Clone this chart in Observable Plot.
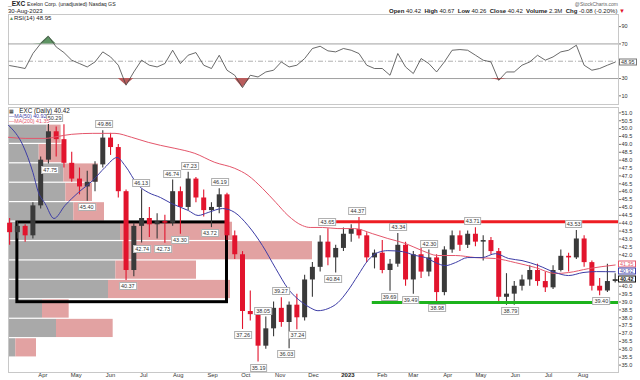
<!DOCTYPE html>
<html><head><meta charset="utf-8">
<script src="https://cdn.jsdelivr.net/npm/d3@7"></script>
<script src="https://cdn.jsdelivr.net/npm/@observablehq/plot@0.6"></script>
<style>
body{margin:0;background:#fff;}
#chart{position:relative;width:640px;height:380px;overflow:hidden;font-family:"Liberation Sans",Arial,sans-serif;color:#222;background:#fff;font-size:6px;}
#chart svg{position:absolute;left:0;top:0;}
.t{position:absolute;white-space:nowrap;line-height:1;font-size:6px;}
.lbl{position:absolute;font-size:5.5px;line-height:6px;padding:0 1px;background:#fff;border:0.6px solid #b0b0b0;transform:translate(-50%,-50%);color:#333;white-space:nowrap;}
.vb{position:absolute;font-size:5.4px;line-height:5px;padding:0 1px;background:#fff;transform:translateY(-50%);white-space:nowrap;}
</style></head><body><div id="chart"></div>
<script>
// ---------- DATA ----------
const candleDates = ["2022-03-02","2022-03-09","2022-03-16","2022-03-23","2022-03-30","2022-04-06","2022-04-13","2022-04-20","2022-04-27","2022-05-04","2022-05-11","2022-05-18","2022-05-25","2022-06-01","2022-06-08","2022-06-15","2022-06-22","2022-06-29","2022-07-06","2022-07-13","2022-07-20","2022-07-27","2022-08-03","2022-08-10","2022-08-17","2022-08-24","2022-08-31","2022-09-07","2022-09-14","2022-09-21","2022-09-28","2022-10-05","2022-10-12","2022-10-19","2022-10-26","2022-11-02","2022-11-09","2022-11-16","2022-11-23","2022-11-30","2022-12-07","2022-12-14","2022-12-21","2022-12-28","2023-01-04","2023-01-11","2023-01-18","2023-01-25","2023-02-01","2023-02-08","2023-02-15","2023-02-22","2023-03-01","2023-03-08","2023-03-15","2023-03-22","2023-03-29","2023-04-05","2023-04-12","2023-04-19","2023-04-26","2023-05-03","2023-05-10","2023-05-17","2023-05-24","2023-05-31","2023-06-07","2023-06-14","2023-06-21","2023-06-28","2023-07-05","2023-07-12","2023-07-19","2023-07-26","2023-08-02","2023-08-09","2023-08-16","2023-08-23","2023-08-30"];
const opens = [44.0,43.4,43.8,43.2,45.1,48.0,49.8,49.3,47.8,46.8, 46.3,46.6,47.7,49.4,48.8,46.0,41.0,43.8,44.3,43.9, 44.1,44.0,46.0,45.0,46.8,45.6,44.8,45.0,45.8,43.2, 42.0,38.4,38.2,36.2,37.3,38.6,37.7,38.8,38.0,40.4, 41.2,42.8,41.8,42.4,43.3,43.6,43.2,41.8,42.1,41.0, 41.4,42.6,40.4,42.0,40.9,41.8,39.6,42.3,43.2,42.6, 43.3,42.8,42.9,42.2,39.3,39.5,40.0,40.4,41.0,40.3, 39.9,41.0,41.9,41.8,43.0,41.5,40.0,39.7,40.3];
const highs = [44.3,44.1,43.9,45.3,48.2,50.29,50.1,50.25,48.5,47.5, 47.3,47.9,49.86,49.7,49.0,46.1,44.0,46.13,45.0,44.6, 44.5,46.74,46.3,47.23,46.9,46.1,45.3,46.19,45.9,43.5, 42.2,39.7,38.4,38.05,39.0,39.27,39.0,39.5,40.7,41.5, 43.2,43.65,42.6,43.7,43.9,44.37,43.4,42.3,42.9,41.7, 43.34,42.8,42.2,42.4,42.30,42.0,42.5,43.5,43.5,43.5, 43.71,43.2,43.1,42.4,40.8,40.3,40.7,41.3,41.4,40.9, 41.3,42.3,42.1,43.53,43.2,41.6,40.5,41.4,40.8];
const lows = [42.6,43.0,42.8,43.0,44.9,47.75,48.2,47.5,46.6,45.8, 45.40,46.0,47.5,48.3,45.6,40.37,40.6,42.74,43.1,43.0, 42.73,43.8,43.30,44.8,45.3,44.4,43.72,44.6,42.9,41.7, 37.26,37.8,35.19,36.0,36.8,37.4,36.03,37.24,37.8,39.3, 40.9,41.3,40.84,42.2,42.8,43.0,41.5,41.1,40.8,39.69, 41.2,40.0,39.49,40.5,40.6,38.98,39.4,42.1,42.2,42.4, 42.5,41.6,42.0,38.9,38.79,38.8,39.7,40.0,40.0,39.6, 39.8,40.9,40.9,41.7,41.2,39.7,39.40,39.6,40.2];
const closes = [43.4,43.8,43.2,45.1,48.0,49.8,49.3,47.8,46.8,46.3, 46.6,47.7,49.4,48.8,46.0,41.0,43.8,44.3,43.9,44.1, 44.0,46.0,45.0,46.8,45.6,44.8,45.0,45.8,43.2,42.0, 38.4,38.2,36.2,37.3,38.6,37.7,38.8,38.0,40.4,41.2, 42.8,41.8,42.4,43.3,43.6,43.2,41.8,42.1,41.0,41.4, 42.6,40.4,42.0,40.9,41.8,39.6,42.3,43.2,42.6,43.3, 42.8,42.9,42.2,39.3,39.5,40.0,40.4,41.0,40.3,39.9, 41.0,41.9,41.8,43.0,41.5,40.0,39.7,40.3,40.42];
const rsi14 = [45,43.4,41.6,58.9,70.4,78.9,66.5,60,51.2,47.3, 43.4,49.2,60.8,55,45.4,22.3,37.6,51.2,45.4,43.4, 47.3,62.7,47.3,57,60,45.4,41.6,56.9,39.6,33.8, 19.5,33.8,31.8,37.6,39.6,49.2,43.4,45.4,53.1,64.7, 67.3,62,60.8,64.7,62.7,58.9,45.4,41.6,41.6,33.8, 58.9,43.4,35.8,53.1,47.3,37.6,49.2,62.7,63.5,62.7, 57,51.2,49.2,27.9,37.6,37.6,45.4,49.2,56.9,51.2, 55,60.8,62.7,68.5,45.4,39.6,41.6,45.4,48.95];

const ma50Dates = ["2022-03-01","2022-03-14","2022-03-23","2022-03-28","2022-04-03","2022-04-11","2022-04-21","2022-05-03","2022-05-16","2022-05-27","2022-06-07","2022-06-14","2022-06-26","2022-07-05","2022-07-16","2022-07-26","2022-08-10","2022-08-19","2022-08-28","2022-09-10","2022-09-21","2022-10-03","2022-10-16","2022-10-28","2022-11-08","2022-11-21","2022-11-28","2022-12-05","2022-12-14","2022-12-23","2023-01-01","2023-01-10","2023-01-19","2023-01-28","2023-02-06","2023-02-19","2023-03-03","2023-03-12","2023-03-21","2023-03-30","2023-04-08","2023-04-19","2023-05-02","2023-05-14","2023-05-26","2023-06-07","2023-06-22","2023-07-07","2023-07-19","2023-08-01","2023-08-13","2023-08-30"];
const ma50Values = [50.21,48.94,47.22,45.95,45.25,44.30,45.13,45.95,46.71,47.54,48.17,47.66,46.40,45.95,45.63,45.25,44.81,44.49,44.68,44.93,44.68,43.85,42.58,41.12,39.85,38.96,38.64,38.45,38.58,38.96,39.72,40.68,41.63,42.14,42.26,42.20,41.95,41.82,41.50,41.31,41.50,41.82,41.82,42.07,41.76,41.63,41.31,40.87,40.68,40.87,40.93,40.92];
const ma200Dates = ["2022-03-01","2022-03-16","2022-04-03","2022-04-15","2022-04-27","2022-05-16","2022-06-05","2022-06-20","2022-07-05","2022-07-16","2022-07-29","2022-08-16","2022-09-03","2022-09-21","2022-10-03","2022-10-16","2022-10-28","2022-11-08","2022-11-21","2022-11-28","2022-12-09","2022-12-23","2023-01-07","2023-01-23","2023-02-06","2023-02-22","2023-03-09","2023-03-23","2023-04-08","2023-04-26","2023-05-14","2023-06-01","2023-06-19","2023-07-07","2023-07-19","2023-08-06","2023-08-30"];
const ma200Values = [49.45,49.38,49.38,49.51,49.64,49.70,49.70,49.45,49.13,48.94,48.75,48.43,47.86,47.48,47.03,46.21,45.32,44.49,43.85,43.73,43.73,43.66,43.66,43.34,43.03,42.71,42.26,41.95,41.95,41.82,41.76,41.50,41.19,40.81,40.87,41.12,41.35];

// volume-by-price zones (price range, up volume, down volume; millions of shares)
const vbpLow  = [35.48,36.71,37.94,39.18,40.41,41.64,42.87,44.10,45.34,46.57,47.80,49.03];
const vbpHigh = [36.71,37.94,39.18,40.41,41.64,42.87,44.10,45.34,46.57,47.80,49.03,50.26];
const vbpUp   = [11,72,51,150,161,171,168,98,86,83,46,58];
const vbpDown = [31,85,40,183,121,285,168,46,40,52,35,21];

const peakDates  = ["2022-04-12","2022-05-27","2022-06-29","2022-07-27","2022-08-12","2022-09-08","2022-10-17","2022-11-02","2022-12-14","2023-01-10","2023-02-16","2023-03-16","2023-04-24","2023-07-24"];
const peakValues = [50.29,49.86,46.13,46.74,47.23,46.19,38.05,39.27,43.65,44.37,43.34,42.30,43.71,43.53];
const troughDates  = ["2022-04-08","2022-05-11","2022-06-17","2022-06-30","2022-07-19","2022-08-03","2022-08-30","2022-09-29","2022-10-13","2022-11-07","2022-11-17","2022-12-19","2023-02-08","2023-02-27","2023-03-23","2023-05-28","2023-08-18"];
const troughValues = [47.75,45.40,40.37,42.74,42.73,43.30,43.72,37.26,35.19,36.03,37.24,40.84,39.69,39.49,38.98,38.79,39.40];

const boxStart = "2022-03-09", boxEnd = "2022-09-14", boxLow = 38.99, boxHigh = 44.05;
const resistance = 44.1, resistanceStart = "2022-12-20";
const support = 38.97, supportStart = "2023-01-23";

// right-axis labels (40.5 / 41.0 / 41.5 sit under the last-value boxes)
const priceTicks = [35,35.5,36,36.5,37,37.5,38,38.5,39,39.5,40,42,42.5,43,43.5,44,44.5,45,45.5,46,46.5,47,47.5,48,48.5,49,49.5,50,50.5,51];
const rsiTicks = [10,30,70,90];
const monthDates = ["2022-04-01","2022-05-01","2022-06-01","2022-07-01","2022-08-01","2022-09-01","2022-10-01","2022-11-01","2022-12-01","2023-01-01","2023-02-01","2023-03-01","2023-04-01","2023-05-01","2023-06-01","2023-07-01","2023-08-01"];
const monthNames = ["Apr","May","Jun","Jul","Aug","Sep","Oct","Nov","Dec","2023","Feb","Mar","Apr","May","Jun","Jul","Aug"];

const lastMA200 = 41.35, lastMA50 = 40.92, lastClose = 40.42, lastRSI = 48.95;

// ---------- BUILD ----------
const W = 640, H = 380;
const xDomain = [new Date("2022-03-01"), new Date("2023-09-02")];
const yDomain = [34.53, 51.34];
const mL = 8, mR = 22, pTop = 107, pBot = 8;
const font = "Liberation Sans, Arial, sans-serif";
const sty = {background: "transparent", overflow: "visible", fontFamily: font};

const candles = candleDates.map((d, i) => ({date: new Date(d), open: opens[i], high: highs[i], low: lows[i], close: closes[i]}));
const cColor = d => d.close >= d.open ? "#3a3a3a" : "#e2142d";
const vbp = vbpLow.map((lo, i) => ({lo, hi: vbpHigh[i], up: vbpUp[i], down: vbpDown[i]}));
const ma50 = ma50Dates.map((d, i) => ({date: new Date(d), v: ma50Values[i]}));
const ma200 = ma200Dates.map((d, i) => ({date: new Date(d), v: ma200Values[i]}));
const rsiData = candleDates.map((d, i) => ({date: new Date(d), v: rsi14[i]}));
const months = monthDates.map((d, i) => ({date: new Date(d), name: monthNames[i]}));
const levels = [
  {y: resistance, start: new Date(resistanceStart), color: "#ee1d23"},
  {y: support, start: new Date(supportStart), color: "#1db31d"}
];

const vol = Plot.plot({
  width: W, height: H, marginLeft: mL, marginRight: mR, marginTop: pTop, marginBottom: pBot,
  x: {domain: [0, 915], axis: null}, y: {domain: yDomain, axis: null}, style: sty,
  marks: [
    Plot.rect(vbp, {x1: () => 0, x2: d => d.up, y1: "lo", y2: "hi", fill: "#a9a9a9", insetTop: 0.6, insetBottom: 0.6}),
    Plot.rect(vbp, {x1: d => d.up, x2: d => d.up + d.down, y1: "lo", y2: "hi", fill: "#e2a2a2", insetTop: 0.6, insetBottom: 0.6})
  ]
});

const price = Plot.plot({
  width: W, height: H, marginLeft: mL, marginRight: mR, marginTop: pTop, marginBottom: pBot,
  x: {type: "utc", domain: xDomain, axis: null}, y: {domain: yDomain, axis: null}, style: sty,
  marks: [
    Plot.frame({stroke: "#c8c8c8"}),
    Plot.axisY({anchor: "right", ticks: priceTicks, tickFormat: d3.format(".1f"), tickSize: 2, tickPadding: 1, fontSize: 5.5, label: null, fill: "#333", stroke: "#777"}),
    Plot.text(months.filter(d => d.name !== "2023"), {x: "date", text: "name", frameAnchor: "bottom", dy: 4.2, fontSize: 5.8, fill: "#333"}),
    Plot.text(months.filter(d => d.name === "2023"), {x: "date", text: "name", frameAnchor: "bottom", dy: 4.2, fontSize: 6, fontWeight: "bold", fill: "#222"}),
    Plot.rect([{s: boxStart, e: boxEnd}], {x1: d => new Date(d.s), x2: d => new Date(d.e), y1: () => boxLow, y2: () => boxHigh, fill: "none", stroke: "black", strokeWidth: 3}),
    Plot.ruleX(candles, {x: "date", y1: "low", y2: "high", stroke: cColor, strokeWidth: 1.1}),
    Plot.ruleX(candles, {x: "date", y1: "open", y2: "close", stroke: cColor, strokeWidth: 5}),
    Plot.line(ma200, {x: "date", y: "v", stroke: "#e4566b", strokeWidth: 1, curve: "monotone-x"}),
    Plot.line(ma50, {x: "date", y: "v", stroke: "#3d3da6", strokeWidth: 1, curve: "monotone-x"}),
    Plot.ruleY(levels, {y: "y", x1: "start", x2: () => xDomain[1], stroke: "color", strokeWidth: 3})
  ]
});

const rsi = Plot.plot({
  width: W, height: H, marginLeft: mL, marginRight: mR, marginTop: 14, marginBottom: H - 104,
  x: {type: "utc", domain: xDomain, axis: null}, y: {domain: [0, 104], axis: null}, style: sty,
  marks: [
    Plot.frame({stroke: "#c8c8c8"}),
    Plot.ruleY([70, 30], {stroke: "#a0a0a0"}),
    Plot.ruleY([50], {stroke: "#b0b0b0", strokeDasharray: "5,2,1,2"}),
    Plot.areaY(rsiData, {x: "date", y1: () => 70, y2: d => Math.max(70, d.v), fill: "#5e9463"}),
    Plot.areaY(rsiData, {x: "date", y1: () => 30, y2: d => Math.min(30, d.v), fill: "#b95c5c"}),
    Plot.line(rsiData, {x: "date", y: "v", stroke: "#444", strokeWidth: 0.8}),
    Plot.axisY({anchor: "right", ticks: rsiTicks, tickSize: 2, tickPadding: 1, fontSize: 5.5, label: null, fill: "#333", stroke: "#777"})
  ]
});

const root = document.getElementById("chart");
root.append(vol, price, rsi);

function addDiv(cls, html, left, top, extra) {
  const el = document.createElement("div");
  el.className = cls;
  el.innerHTML = html;
  el.style.left = left + "px";
  el.style.top = top + "px";
  if (extra) Object.assign(el.style, extra);
  root.appendChild(el);
  return el;
}

const sx = price.scale("x"), sy = price.scale("y"), ry = rsi.scale("y");

// swing labels
peakDates.forEach((d, i) => addDiv("lbl", peakValues[i].toFixed(2), sx.apply(new Date(d)), sy.apply(peakValues[i]) - 6));
troughDates.forEach((d, i) => addDiv("lbl", troughValues[i].toFixed(2), sx.apply(new Date(d)), sy.apply(troughValues[i]) + 6));

// right-side value boxes
addDiv("vb", lastMA200.toFixed(2), 618, sy.apply(lastMA200), {color: "#e4566b", border: "0.6px solid #e4566b"});
addDiv("vb", lastMA50.toFixed(2), 618, sy.apply(lastMA50), {color: "#3d3da6", border: "0.6px solid #3d3da6"});
addDiv("vb", lastClose.toFixed(2), 618, sy.apply(lastClose), {color: "#111", border: "0.6px solid #111", fontWeight: "bold"});
addDiv("vb", lastRSI.toFixed(2), 619, ry.apply(lastRSI), {color: "#333", border: "0.6px solid #777"});

// header
addDiv("t", '<b style="font-size:6.6px">_EXC</b> <span style="font-size:5.2px">Exelon Corp. (unadjusted) Nasdaq GS</span>', 8, 0.8, {fontSize: "6.6px"});
addDiv("t", "30-Aug-2023", 8, 8, {fontSize: "6px"});
addDiv("t", '<span style="color:#5e9463;font-size:5px">&#9650;</span>RSI(14) 48.95', 9, 15.2, {fontSize: "6px"});
addDiv("t", "@StockCharts.com", 0, 2.2, {fontSize: "5px", color: "#666", left: "auto", right: "22px"});
addDiv("t", '<b>Open</b> 40.42&nbsp; <b>High</b> 40.67&nbsp; <b>Low</b> 40.26&nbsp; <b>Close</b> 40.42&nbsp; <b>Volume</b> 2.3M&nbsp; <b>Chg</b> -0.08 (-0.20%) <span style="color:#e2142d">&#9660;</span>', 0, 8.4, {fontSize: "6px", left: "auto", right: "15px"});

// price legend
addDiv("t", '<span style="font-size:5px">&#9638;</span> _EXC (Daily) 40.42', 9, 107.8, {fontSize: "6.3px", background: "#fff"});
addDiv("t", '<span style="color:#3d3da6">&#8212;MA(50) 40.92</span>', 9, 113.6, {fontSize: "5.3px", background: "#fff"});
addDiv("t", '<span style="color:#e4566b">&#8212;MA(200) 41.35</span>', 9, 119, {fontSize: "5.3px", background: "#fff"});
</script></body></html>
